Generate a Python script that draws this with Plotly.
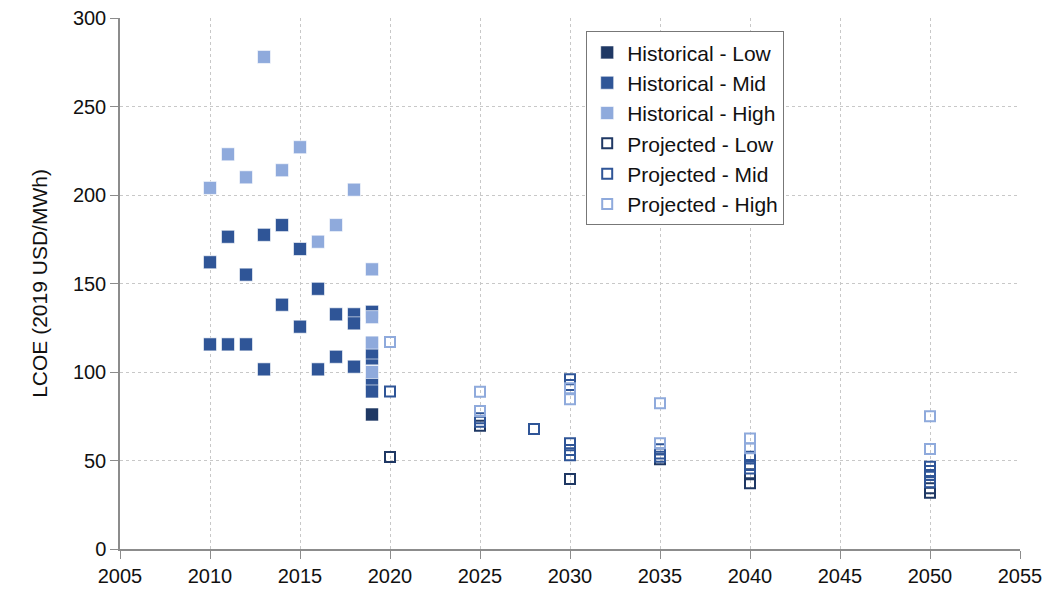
import plotly.graph_objects as go

# Historical data
hist_low_x = [2019]
hist_low_y = [76]

hist_mid_x = [2010, 2010, 2011, 2011, 2012, 2012, 2013, 2013, 2014, 2014, 2015, 2015,
              2016, 2016, 2017, 2017, 2018, 2018, 2018, 2019, 2019, 2019, 2019, 2019, 2019]
hist_mid_y = [162, 115.6, 176.4, 115.6, 155, 115.6, 177.5, 101.5, 183, 138, 169.5, 125.6,
              147, 101.5, 132.6, 108.6, 132.6, 127.5, 103, 134, 116, 107.7, 93.6, 89, 111]

hist_high_x = [2010, 2011, 2012, 2013, 2014, 2015, 2016, 2017, 2018, 2019, 2019, 2019, 2019]
hist_high_y = [204, 223, 210, 278, 214, 227, 173.6, 183, 203, 158, 131, 116.6, 100]

# Projected data
proj_low_x = [2020, 2025, 2030, 2035, 2040, 2040, 2050, 2050]
proj_low_y = [52, 69.7, 39.5, 50.7, 37.1, 42.2, 31.8, 34.3]

proj_mid_x = [2020, 2025, 2025, 2028, 2030, 2030, 2030, 2030, 2030, 2035, 2035, 2035,
              2040, 2040, 2040, 2050, 2050, 2050, 2050]
proj_mid_y = [89, 71.9, 73.8, 67.8, 95.9, 92.6, 59.7, 56, 53, 56.3, 54, 52.1,
              52.1, 47.5, 45.5, 46.5, 44, 41.8, 37.7]

proj_high_x = [2020, 2025, 2025, 2030, 2030, 2035, 2035, 2040, 2040, 2050, 2050]
proj_high_y = [117, 88.9, 78, 90.8, 84.6, 82.3, 59.7, 62.5, 56.9, 75, 56.5]

x_ticks = list(range(2005, 2056, 5))
y_ticks = [0, 50, 100, 150, 200, 250, 300]

c_low = "#1F3864"
c_mid = "#2F5597"
c_high = "#8FAADC"

FONT = "Liberation Sans, Arial, Helvetica, sans-serif"

fig = go.Figure()

def add_filled(x, y, color, name):
    fig.add_trace(go.Scatter(x=x, y=y, mode="markers", name=name,
                             marker=dict(symbol="square", size=13, color=color,
                                         line=dict(width=1, color="rgba(255,255,255,0.6)"))))

def add_open(x, y, color, name):
    fig.add_trace(go.Scatter(x=x, y=y, mode="markers", name=name,
                             marker=dict(symbol="square-open", size=10, color=color,
                                         line=dict(width=2, color=color))))

add_filled(hist_low_x, hist_low_y, c_low, "Historical - Low")
add_filled(hist_mid_x, hist_mid_y, c_mid, "Historical - Mid")
add_filled(hist_high_x, hist_high_y, c_high, "Historical - High")
add_open(proj_low_x, proj_low_y, c_low, "Projected - Low")
add_open(proj_mid_x, proj_mid_y, c_mid, "Projected - Mid")
add_open(proj_high_x, proj_high_y, c_high, "Projected - High")

axis_common = dict(
    showgrid=True, gridcolor="#c8c8c8", griddash="dot", gridwidth=1,
    showline=True, linecolor="#8c8c8c", linewidth=1.5,
    ticks="outside", ticklen=8, tickcolor="#8c8c8c",
    tickfont=dict(family=FONT, size=20, color="#111"),
    zeroline=False, automargin=False, ticklabeloverflow="allow",
)

# The page body has an 8px margin, so the figure is sized/offset to compensate.
fig.update_layout(
    width=1053, height=581,
    margin=dict(l=112, r=41, t=10, b=40),
    paper_bgcolor="white", plot_bgcolor="white",
    font=dict(family=FONT, color="#111"),
    xaxis=dict(range=[2005, 2055], tickvals=x_ticks, **axis_common),
    yaxis=dict(range=[0, 300], tickvals=y_ticks,
               title=dict(text="LCOE (2019 USD/MWh)", font=dict(size=21), standoff=20),
               **axis_common),
    legend=dict(x=0.518, y=0.975, xanchor="left", yanchor="top",
                bordercolor="#777", borderwidth=1, bgcolor="white",
                font=dict(size=21, color="#111"), itemsizing="trace",
                tracegroupgap=0),
    showlegend=True,
)

fig.write_html("out.html")
